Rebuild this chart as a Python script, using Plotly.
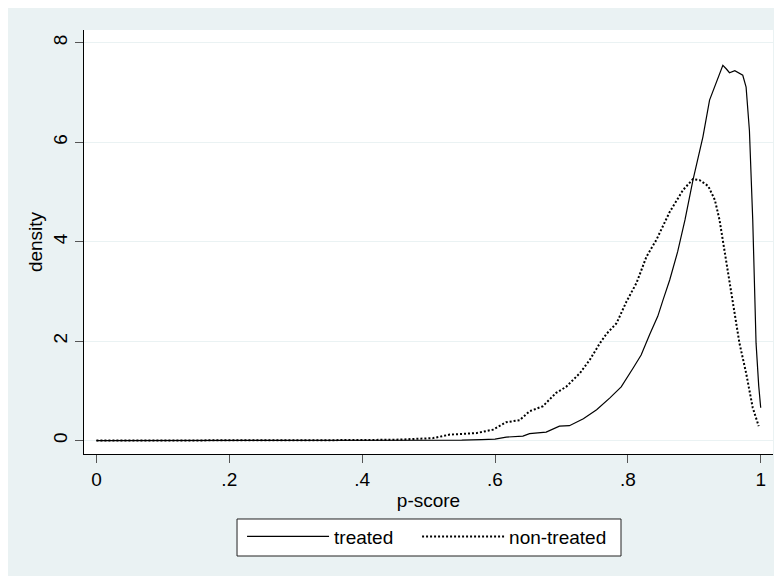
import plotly.graph_objects as go

# ---- data ----
treated_x = [0.00, 0.10, 0.20, 0.30, 0.40, 0.50, 0.55, 0.58, 0.60, 0.617, 0.642, 0.652, 0.667, 0.677,
             0.697, 0.712, 0.733, 0.753, 0.773, 0.790, 0.808, 0.820, 0.833, 0.845, 0.853, 0.863,
             0.875, 0.886, 0.898, 0.913, 0.923, 0.933, 0.943, 0.948, 0.953, 0.961, 0.968, 0.973,
             0.978, 0.983, 0.988, 0.991, 0.993, 0.997, 1.000]
treated_y = [0.0, 0.0, 0.0, 0.0, 0.0, 0.005, 0.01, 0.02, 0.03, 0.07, 0.09, 0.14, 0.15, 0.17,
             0.29, 0.30, 0.44, 0.62, 0.86, 1.08, 1.46, 1.72, 2.14, 2.50, 2.83, 3.23,
             3.80, 4.44, 5.24, 6.11, 6.85, 7.18, 7.55, 7.48, 7.40, 7.44, 7.38, 7.35,
             7.11, 6.24, 4.44, 2.83, 1.96, 1.10, 0.66]

nontreated_x = [0.00, 0.10, 0.20, 0.30, 0.40, 0.457, 0.48, 0.507, 0.532, 0.572, 0.597, 0.617, 0.637,
                0.652, 0.672, 0.692, 0.707, 0.728, 0.743, 0.758, 0.768, 0.783, 0.798, 0.813, 0.828,
                0.843, 0.863, 0.883, 0.898, 0.908, 0.921, 0.931, 0.938, 0.948, 0.958, 0.968, 0.978,
                0.988, 0.997]
nontreated_y = [0.0, 0.0, 0.0, 0.0, 0.01, 0.02, 0.03, 0.05, 0.12, 0.15, 0.22, 0.37, 0.41,
                0.59, 0.69, 0.96, 1.08, 1.36, 1.63, 1.96, 2.15, 2.36, 2.80, 3.17, 3.70,
                4.04, 4.60, 5.04, 5.26, 5.24, 5.12, 4.84, 4.44, 3.60, 2.83, 1.96, 1.36,
                0.66, 0.29]

x_tickvals = [0, 0.2, 0.4, 0.6, 0.8, 1.0]
x_ticktext = ["0", ".2", ".4", ".6", ".8", "1"]
y_tickvals = [0, 2, 4, 6, 8]
y_ticktext = ["0", "2", "4", "6", "8"]

BG = "#EAF2F3"
FONT = "Liberation Sans, Arial, sans-serif"
FS = 19

fig = go.Figure()
fig.add_trace(go.Scatter(x=treated_x, y=treated_y, mode="lines", name="treated",
                         legend="legend",
                         line=dict(color="black", width=1.2)))
fig.add_trace(go.Scatter(x=nontreated_x, y=nontreated_y, mode="lines", name="non-treated",
                         legend="legend2",
                         line=dict(color="black", width=2, dash="2px,2px")))

legend_common = dict(orientation="h", y=-0.15, yanchor="top", xanchor="left",
                     bgcolor="rgba(0,0,0,0)", borderwidth=0, itemwidth=82,
                     font=dict(family=FONT, size=FS, color="black"))

# page body has an 8px margin: figure origin sits at (8, 8) on the page
fig.update_layout(
    width=774, height=568,
    margin=dict(l=76, r=9, t=22, b=122, autoexpand=False),
    paper_bgcolor=BG,
    plot_bgcolor="white",
    font=dict(family=FONT, size=FS, color="black"),
    showlegend=True,
    legend=dict(x=0.2294, **legend_common),
    legend2=dict(x=0.4834, **legend_common),
    shapes=[
        # legend frame
        dict(type="rect", xref="paper", yref="paper", x0=0.2221, x1=0.7794,
             y0=-0.2406, y1=-0.1533, fillcolor="white",
             line=dict(color="#222", width=1), layer="below"),
    ],
)

fig.update_xaxes(range=[-0.0187, 1.0185], tickvals=x_tickvals, ticktext=x_ticktext,
                 showline=True, linecolor="black", linewidth=1, mirror=False,
                 ticks="outside", ticklen=8, tickcolor="#555", tickwidth=1,
                 showgrid=False, zeroline=False, automargin=False,
                 title=dict(text="p-score", standoff=4, font=dict(family=FONT, size=FS)))
fig.update_yaxes(range=[-0.27, 8.26], tickvals=y_tickvals, ticktext=y_ticktext, tickangle=-90,
                 showline=True, linecolor="black", linewidth=1, mirror=False,
                 ticks="outside", ticklen=8, tickcolor="#555", tickwidth=1,
                 showgrid=True, gridcolor=BG, gridwidth=1, zeroline=False, automargin=False,
                 title=dict(text="density", standoff=2, font=dict(family=FONT, size=FS)))

fig.write_html("out.html")
